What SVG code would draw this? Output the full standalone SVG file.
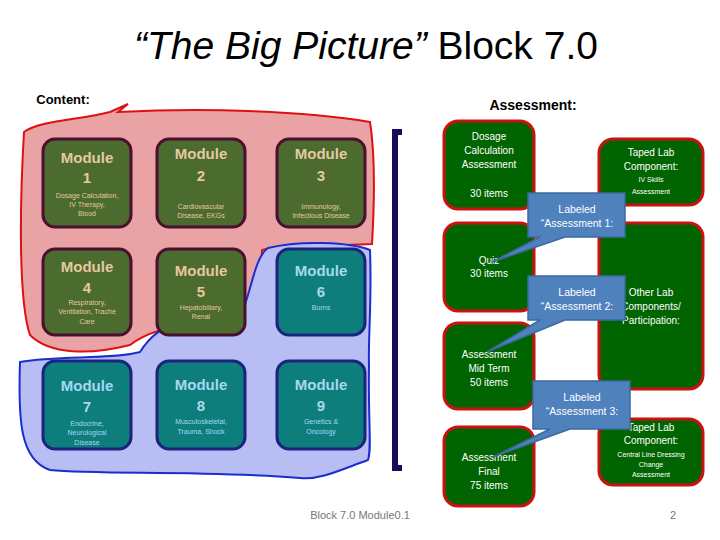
<svg xmlns="http://www.w3.org/2000/svg" width="720" height="540" viewBox="0 0 720 540">
<style>
text{font-family:"Liberation Sans",Arial,sans-serif;text-anchor:middle}
.mg{fill:#4b6b2f;stroke:#4a1030;stroke-width:3}
.mt{fill:#0e7e7c;stroke:#1a237e;stroke-width:3}
.tg{fill:#e6c8a0}
.tt{fill:#a8d8f0}
.big{font-size:15px;font-weight:bold}
.sm{font-size:7px}
.ab{fill:#006400;stroke:#cc1111;stroke-width:3}
.at{fill:#fff;font-size:10px}
.as{fill:#fff;font-size:7px}
.co{fill:#4f81bd;stroke:#3a6aa0;stroke-width:1.5}
.ct{fill:#fff;font-size:10.5px}
</style>
<rect width="720" height="540" fill="#fff"/>
<text x="366" y="59" font-size="39" fill="#000"><tspan font-style="italic">“The Big Picture”</tspan> Block 7.0</text>
<text x="63" y="104" font-size="13" font-weight="bold">Content:</text>
<text x="533" y="110" font-size="14" font-weight="bold">Assessment:</text>
<g id="blobs">
<path d="M24,132 C40,120 80,120 110,112 L128,104 L118,112 C200,108 300,110 370,122 C376,160 374,210 372,244 L270,248 L262,250 L260,330 L230,332 C180,320 150,330 130,345 C90,355 50,355 30,335 C18,300 20,200 24,132 Z" fill="#eaa3a5" stroke="#dd1111" stroke-width="2"/>
<path d="M20,362 C60,355 110,360 140,352 C160,320 200,310 228,330 C250,320 250,260 268,248 C300,240 350,242 370,250 C372,300 368,340 369,365 C368,420 372,450 368,460 C340,470 320,480 300,478 C200,470 100,475 50,470 C20,460 18,420 20,362 Z" fill="#b8bdf4" stroke="#1a2ed0" stroke-width="2"/>
</g>
<g id="m1"><rect class="mg" x="43" y="139" width="88" height="88" rx="12"/><text class="tg big" x="87" y="163">Module</text><text class="tg big" x="87" y="183">1</text><text class="tg sm" x="87" y="198">Dosage Calculation,</text><text class="tg sm" x="87" y="207">IV Therapy,</text><text class="tg sm" x="87" y="216">Blood</text></g>
<g id="m2"><rect class="mg" x="157" y="139" width="88" height="88" rx="12"/><text class="tg big" x="201" y="159">Module</text><text class="tg big" x="201" y="181">2</text><text class="tg sm" x="201" y="209">Cardiovascular</text><text class="tg sm" x="201" y="218">Disease, EKGs</text></g>
<g id="m3"><rect class="mg" x="277" y="139" width="88" height="88" rx="12"/><text class="tg big" x="321" y="159">Module</text><text class="tg big" x="321" y="181">3</text><text class="tg sm" x="321" y="209">Immunology,</text><text class="tg sm" x="321" y="218">Infectious Disease</text></g>
<g id="m4"><rect class="mg" x="43" y="249" width="88" height="86" rx="12"/><text class="tg big" x="87" y="272">Module</text><text class="tg big" x="87" y="293">4</text><text class="tg sm" x="87" y="305">Respiratory,</text><text class="tg sm" x="87" y="314">Ventilation, Trache</text><text class="tg sm" x="87" y="324">Care</text></g>
<g id="m5"><rect class="mg" x="157" y="249" width="88" height="86" rx="12"/><text class="tg big" x="201" y="276">Module</text><text class="tg big" x="201" y="297">5</text><text class="tg sm" x="201" y="310">Hepatobiliary,</text><text class="tg sm" x="201" y="319">Renal</text></g>
<g id="m6"><rect class="mt" x="277" y="249" width="88" height="86" rx="12"/><text class="tt big" x="321" y="276">Module</text><text class="tt big" x="321" y="297">6</text><text class="tt sm" x="321" y="310">Burns</text></g>
<g id="m7"><rect class="mt" x="43" y="361" width="88" height="88" rx="12"/><text class="tt big" x="87" y="391">Module</text><text class="tt big" x="87" y="412">7</text><text class="tt sm" x="87" y="426">Endocrine,</text><text class="tt sm" x="87" y="435">Neurological</text><text class="tt sm" x="87" y="445">Disease</text></g>
<g id="m8"><rect class="mt" x="157" y="361" width="88" height="88" rx="12"/><text class="tt big" x="201" y="390">Module</text><text class="tt big" x="201" y="411">8</text><text class="tt sm" x="201" y="424">Musculoskeletal,</text><text class="tt sm" x="201" y="434">Trauma, Shock</text></g>
<g id="m9"><rect class="mt" x="277" y="361" width="88" height="88" rx="12"/><text class="tt big" x="321" y="390">Module</text><text class="tt big" x="321" y="411">9</text><text class="tt sm" x="321" y="424">Genetics &amp;</text><text class="tt sm" x="321" y="434">Oncology</text></g>
<g id="bracket"><path d="M402,132 L395,132 L395,468 L402,468" fill="none" stroke="#1a0a5a" stroke-width="6"/></g>
<g id="a1"><rect class="ab" x="444" y="121" width="90" height="88" rx="14"/><text class="at" x="489" y="140">Dosage</text><text class="at" x="489" y="154">Calculation</text><text class="at" x="489" y="168">Assessment</text><text class="at" x="489" y="197">30 items</text></g>
<g id="a2"><rect class="ab" x="444" y="223" width="90" height="88" rx="14"/><text class="at" x="489" y="264">Quiz</text><text class="at" x="489" y="277">30 items</text></g>
<g id="a3"><rect class="ab" x="444" y="323" width="90" height="86" rx="14"/><text class="at" x="489" y="358">Assessment</text><text class="at" x="489" y="372">Mid Term</text><text class="at" x="489" y="386">50 items</text></g>
<g id="a4"><rect class="ab" x="444" y="427" width="90" height="79" rx="14"/><text class="at" x="489" y="461">Assessment</text><text class="at" x="489" y="475">Final</text><text class="at" x="489" y="489">75 items</text></g>
<g id="b1"><rect class="ab" x="599" y="139" width="104" height="66" rx="14"/><text class="at" x="651" y="156">Taped Lab</text><text class="at" x="651" y="170">Component:</text><text class="as" x="651" y="182">IV Skills</text><text class="as" x="651" y="194">Assessment</text></g>
<g id="b2"><rect class="ab" x="599" y="223" width="104" height="166" rx="14"/><text class="at" x="651" y="296">Other  Lab</text><text class="at" x="651" y="310">Components/</text><text class="at" x="651" y="324">Participation:</text></g>
<g id="b3"><rect class="ab" x="599" y="419" width="104" height="66" rx="14"/><text class="at" x="651" y="431">Taped Lab</text><text class="at" x="651" y="444">Component:</text><text class="as" x="651" y="457">Central Line Dressing</text><text class="as" x="651" y="467">Change</text><text class="as" x="651" y="477">Assessment</text></g>
<g id="connectors">
<path class="co" d="M528,193 L625,193 L625,237 L565,237 L492,262 L540,237 L528,237 Z"/>
<path class="co" d="M528,276 L625,276 L625,320 L565,320 L487,352 L540,320 L528,320 Z"/>
<path class="co" d="M533,381 L630,381 L630,429 L570,429 L493,457 L550,429 L533,429 Z"/>
</g>
<g id="callout-text">
<text class="ct" x="577" y="213">Labeled</text><text class="ct" x="577" y="227">“Assessment 1:</text>
<text class="ct" x="577" y="296">Labeled</text><text class="ct" x="577" y="310">“Assessment 2:</text>
<text class="ct" x="582" y="401">Labeled</text><text class="ct" x="582" y="415">“Assessment 3:</text>
</g>
<text x="360" y="519" font-size="11" fill="#777">Block 7.0   Module0.1</text>
<text x="673" y="519" font-size="11" fill="#777">2</text>
</svg>
